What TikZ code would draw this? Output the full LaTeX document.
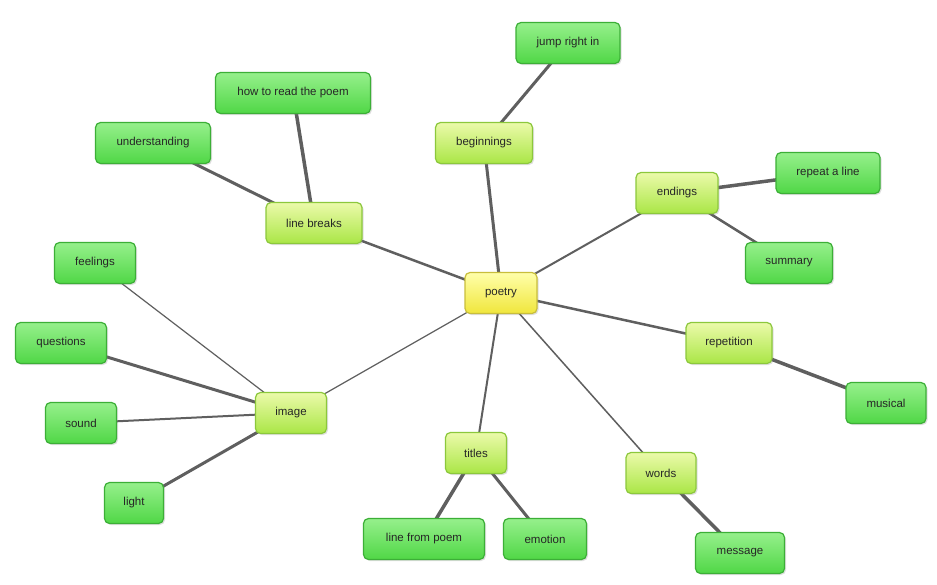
\documentclass[tikz,border=0pt]{standalone}
\usepackage{fontspec}
\setmainfont{Liberation Sans}
\usetikzlibrary{shadows}
\begin{document}
\begin{tikzpicture}[x=1pt,y=-1pt,
  box/.style={rounded corners=5pt,draw=#1,line width=1.2pt,minimum height=41pt,inner sep=0pt,
    font=\fontsize{11.5}{13}\selectfont,text=black!85,
    drop shadow={shadow xshift=1.5pt,shadow yshift=-1.5pt,opacity=0.25}},
  leaf/.style={box=green!55!black!80,top color=green!45!white!95!black,bottom color=green!65!black!75!white!90,
    top color={rgb,255:red,150;green,240;blue,140},bottom color={rgb,255:red,80;green,215;blue,70},draw={rgb,255:red,60;green,175;blue,55}},
  mid/.style={box=black,top color={rgb,255:red,235;green,250;blue,170},bottom color={rgb,255:red,170;green,230;blue,70},draw={rgb,255:red,140;green,200;blue,60}},
  root/.style={box=black,top color={rgb,255:red,255;green,255;blue,170},bottom color={rgb,255:red,240;green,230;blue,60},draw={rgb,255:red,200;green,190;blue,60}},
  con/.style={draw={rgb,255:red,95;green,95;blue,95},line width=#1},
  con/.default=2.5pt]
\useasboundingbox (0,0) rectangle (937,584);
\fill[white] (0,0) rectangle (937,584);
\coordinate (P) at (501,293);
\coordinate (B) at (484,143);
\coordinate (J) at (568,43);
\coordinate (H) at (293,93);
\coordinate (U) at (153,143);
\coordinate (L) at (314,223);
\coordinate (E) at (677,193);
\coordinate (R) at (828,173);
\coordinate (S) at (789,263);
\coordinate (F) at (95,263);
\coordinate (Q) at (61,343);
\coordinate (So) at (81,423);
\coordinate (Li) at (134,503);
\coordinate (I) at (291,413);
\coordinate (Re) at (729,343);
\coordinate (M) at (886,403);
\coordinate (T) at (476,453);
\coordinate (LP) at (424,539);
\coordinate (Em) at (545,539);
\coordinate (W) at (661,473);
\coordinate (Me) at (740,553);
% connectors
\draw[con=3pt] (P) -- (B);
\draw[con=3pt] (B) -- (J);
\draw[con=2.5pt] (P) -- (L);
\draw[con=3.5pt] (L) -- (H);
\draw[con=3pt] (L) -- (U);
\draw[con=2pt] (P) -- (E);
\draw[con=3.5pt] (E) -- (R);
\draw[con=2.5pt] (E) -- (S);
\draw[con=1.2pt] (P) -- (I);
\draw[con=1.2pt] (I) -- (F);
\draw[con=3pt] (I) -- (Q);
\draw[con=2pt] (I) -- (So);
\draw[con=3pt] (I) -- (Li);
\draw[con=2.5pt] (P) -- (Re);
\draw[con=3.5pt] (Re) -- (M);
\draw[con=2pt] (P) -- (T);
\draw[con=3.5pt] (T) -- (LP);
\draw[con=3pt] (T) -- (Em);
\draw[con=1.5pt] (P) -- (W);
\draw[con=3.5pt] (W) -- (Me);
% nodes
\node[root,minimum width=72pt] (poetry) at (P) {poetry};
\node[mid,minimum width=97pt] (beg) at (B) {beginnings};
\node[leaf,minimum width=104pt] (jump) at (J) {jump right in};
\node[leaf,minimum width=155pt] (how) at (H) {how to read the poem};
\node[leaf,minimum width=115pt] (und) at (U) {understanding};
\node[mid,minimum width=96pt] (lb) at (L) {line breaks};
\node[mid,minimum width=82pt] (end) at (E) {endings};
\node[leaf,minimum width=104pt] (rep) at (R) {repeat a line};
\node[leaf,minimum width=87pt] (sum) at (S) {summary};
\node[leaf,minimum width=81pt] (feel) at (F) {feelings};
\node[leaf,minimum width=91pt] (ques) at (Q) {questions};
\node[leaf,minimum width=71pt] (sound) at (So) {sound};
\node[leaf,minimum width=59pt] (light) at (Li) {light};
\node[mid,minimum width=71pt] (img) at (I) {image};
\node[mid,minimum width=86pt] (repn) at (Re) {repetition};
\node[leaf,minimum width=80pt] (mus) at (M) {musical};
\node[mid,minimum width=61pt] (tit) at (T) {titles};
\node[leaf,minimum width=121pt] (lfp) at (LP) {line from poem};
\node[leaf,minimum width=83pt] (emo) at (Em) {emotion};
\node[mid,minimum width=70pt] (words) at (W) {words};
\node[leaf,minimum width=89pt] (msg) at (Me) {message};
\end{tikzpicture}
\end{document}
